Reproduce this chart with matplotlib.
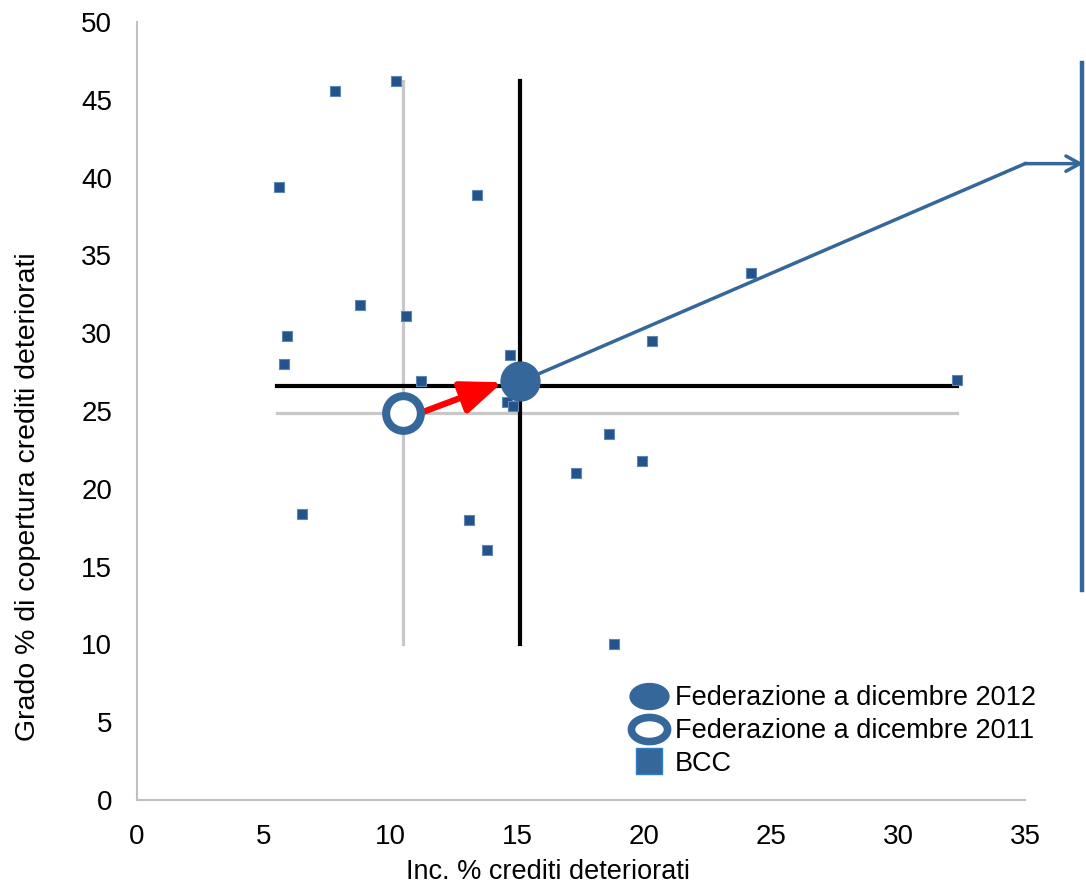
import numpy as np
from matplotlib import pyplot as plt
from matplotlib.lines import Line2D
from matplotlib.path import Path

# BCC banks: incidence % of impaired loans vs coverage %
bcc_x = [5.6, 7.8, 10.2, 13.4, 5.9, 5.8, 8.8, 10.6, 11.2, 14.7, 14.6, 14.8, 24.2, 20.3, 32.3,
         18.6, 19.9, 17.3, 6.5, 13.1, 13.8, 18.8]
bcc_y = [39.4, 45.6, 46.2, 38.9, 29.8, 28.0, 31.8, 31.1, 26.9, 28.6, 25.6, 25.3, 33.9, 29.5, 27.0,
         23.5, 21.8, 21.0, 18.4, 18.0, 16.1, 10.0]

fed_2012 = (15.1, 26.9)
fed_2011 = (10.5, 24.9)

# reference lines
black_h = ([5.5, 32.3], [26.6, 26.6])
black_v = ([15.1, 15.1], [10.0, 46.2])
gray_h = ([5.5, 32.3], [24.9, 24.9])
gray_v = ([10.5, 10.5], [10.0, 46.2])

# red arrow 2011 -> 2012
arrow_from = (11.2, 24.9)
arrow_to = (14.4, 26.85)

# callout path from the 2012 point
callout_x = [15.7, 35.0, 37.3]
callout_y = [27.3, 40.9, 40.9]

blue = '#35679A'
sq_blue = '#22538A'
font = ['Liberation Sans', 'DejaVu Sans']

fig = plt.figure(figsize=(10.86, 8.96), dpi=100)
ax = fig.add_axes([0.1262, 0.1071, 0.8177, 0.8683])

ax.plot(*gray_v, color='#C8C8C8', lw=2.3, zorder=1)
ax.plot(*gray_h, color='#C8C8C8', lw=2.3, zorder=1)
ax.plot(*black_v, color='black', lw=3, zorder=2)
ax.plot(*black_h, color='black', lw=3, zorder=2)

ax.scatter(bcc_x, bcc_y, marker='s', s=55, color=sq_blue, edgecolor='#5F87B5', lw=0.8,
           zorder=3)

ax.plot(callout_x[:2], callout_y[:2], color=blue, lw=2.5, zorder=3, clip_on=False)
ax.annotate('', xy=(callout_x[2], callout_y[2]), xytext=(callout_x[1], callout_y[1]),
            annotation_clip=False,
            arrowprops=dict(arrowstyle='->,head_length=1.0,head_width=0.55', color=blue, lw=2.5,
                            shrinkA=0, shrinkB=0))
ax.plot([1.064, 1.064], [0.27, 0.947], transform=ax.transAxes, color=blue, lw=3.2,
        clip_on=False)

ax.annotate('', xy=arrow_to, xytext=arrow_from,
            arrowprops=dict(arrowstyle='-|>,head_length=2.5,head_width=1.0', color='red', lw=4.5,
                            shrinkA=0, shrinkB=0), zorder=4)

ax.plot(*fed_2012, 'o', ms=28, color=blue, zorder=5)
ax.plot(*fed_2011, 'o', ms=25, mfc='white', mec=blue, mew=5.8, zorder=5)

ax.set_xlim(0, 35)
ax.set_ylim(0, 50)
ax.set_xticks(np.arange(0, 36, 5))
ax.set_yticks(np.arange(0, 51, 5))
for s in ['top', 'right']:
    ax.spines[s].set_visible(False)
for s in ['left', 'bottom']:
    ax.spines[s].set_color('#C0C0C0')
    ax.spines[s].set_linewidth(1.5)
ax.tick_params(length=0)
ax.tick_params(axis='y', pad=18)
ax.tick_params(axis='x', pad=17)
for t in ax.get_xticklabels() + ax.get_yticklabels():
    t.set_fontsize(20)
    t.set_family(font)

ax.set_xlabel('Inc. % crediti deteriorati', fontsize=19.5, family=font)
ax.xaxis.set_label_coords(0.463, -0.076)
ax.set_ylabel('Grado % di copertura crediti deteriorati', fontsize=20.5, family=font)
ax.yaxis.set_label_coords(-0.108, 0.39)

# legend markers: ellipses as in the original
t = np.linspace(0, 2 * np.pi, 60)
ell = Path(np.column_stack([1.5 * np.cos(t), np.sin(t)]), closed=True)
handles = [
    Line2D([], [], ls='none', marker=ell, ms=28, color=blue),
    Line2D([], [], ls='none', marker=ell, ms=26, mfc='white', mec=blue, mew=5.5),
    Line2D([], [], ls='none', marker='s', ms=19, color=blue, mec='#2F7FC8', mew=1),
]
labels = ['Federazione a dicembre 2012', 'Federazione a dicembre 2011', 'BCC']
ax.legend(handles, labels, loc='lower left', bbox_to_anchor=(0.546, 0.016), frameon=False,
          prop={'family': font, 'size': 19.5}, handletextpad=0.35, labelspacing=0.25,
          handlelength=1.2, borderaxespad=0)

fig.savefig('out.png', dpi=100)
